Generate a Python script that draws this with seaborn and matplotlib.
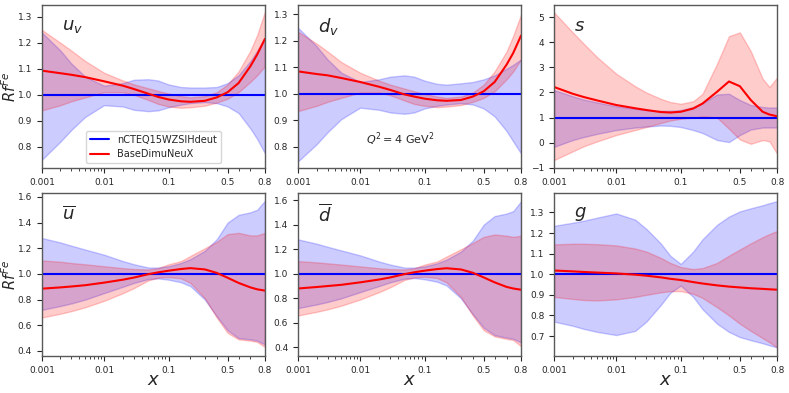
import numpy as np
import pandas as pd
import matplotlib
matplotlib.use("Agg")
import matplotlib.pyplot as plt
from matplotlib.ticker import NullFormatter
import seaborn as sns

x_vals = [0.001, 0.002, 0.003, 0.005, 0.01, 0.02, 0.03, 0.05, 0.07, 0.1,
          0.15, 0.2, 0.3, 0.4, 0.5, 0.6, 0.7, 0.75, 0.8]

ref_name = "nCTEQ15WZSIHdeut"
fit_name = "BaseDimuNeuX"
ref_central = 1.0

# u_v
uv_fit = [1.093, 1.083, 1.077, 1.068, 1.052, 1.035, 1.022, 1.004, 0.992, 0.982,
          0.975, 0.973, 0.977, 0.990, 1.010, 1.045, 1.11, 1.155, 1.215]
uv_fit_hi = [1.25, 1.20, 1.17, 1.13, 1.085, 1.055, 1.04, 1.025, 1.015, 1.005,
             0.995, 0.99, 0.995, 1.01, 1.04, 1.09, 1.17, 1.23, 1.32]
uv_fit_lo = [0.94, 0.96, 0.975, 0.99, 1.01, 1.01, 1.0, 0.98, 0.965, 0.955,
             0.95, 0.952, 0.958, 0.97, 0.985, 1.01, 1.05, 1.075, 1.11]
uv_ref_hi = [1.24, 1.17, 1.12, 1.07, 1.035, 1.045, 1.058, 1.06, 1.055, 1.04,
             1.03, 1.028, 1.028, 1.03, 1.045, 1.075, 1.13, 1.17, 1.22]
uv_ref_lo = [0.75, 0.82, 0.865, 0.915, 0.96, 0.955, 0.942, 0.937, 0.94, 0.952,
             0.962, 0.968, 0.972, 0.968, 0.955, 0.93, 0.87, 0.83, 0.775]

# d_v
dv_fit = [1.085, 1.075, 1.07, 1.06, 1.045, 1.027, 1.015, 0.998, 0.99, 0.982,
          0.976, 0.974, 0.977, 0.99, 1.01, 1.045, 1.11, 1.155, 1.22]
dv_fit_hi = [1.235, 1.19, 1.16, 1.12, 1.08, 1.05, 1.035, 1.02, 1.01, 1.0,
             0.99, 0.985, 0.99, 1.005, 1.035, 1.085, 1.16, 1.22, 1.30]
dv_fit_lo = [0.935, 0.955, 0.97, 0.985, 1.005, 1.005, 0.995, 0.975, 0.962, 0.955,
             0.95, 0.952, 0.958, 0.97, 0.985, 1.01, 1.055, 1.085, 1.13]
dv_ref_hi = [1.25, 1.18, 1.13, 1.08, 1.045, 1.055, 1.065, 1.07, 1.065, 1.05,
             1.038, 1.035, 1.04, 1.045, 1.055, 1.07, 1.095, 1.11, 1.13]
dv_ref_lo = [0.745, 0.81, 0.855, 0.905, 0.948, 0.94, 0.93, 0.925, 0.93, 0.945,
             0.955, 0.96, 0.965, 0.96, 0.945, 0.915, 0.86, 0.82, 0.775]

# s
s_fit = [2.22, 1.95, 1.82, 1.68, 1.5, 1.37, 1.3, 1.22, 1.2, 1.23,
         1.36, 1.56, 2.03, 2.44, 2.25, 1.7, 1.23, 1.12, 1.05]
s_fit_hi = [5.2, 4.4, 3.95, 3.4, 2.75, 2.25, 2.0, 1.75, 1.62, 1.55,
            1.65, 1.95, 3.15, 4.25, 4.4, 3.65, 2.55, 2.22, 2.6]
s_fit_lo = [-0.7, -0.35, -0.15, 0.05, 0.3, 0.5, 0.62, 0.78, 0.88, 0.95,
            1.0, 1.05, 1.0, 0.55, 0.12, -0.05, 0.1, 0.05, -0.45]
s_ref_hi = [2.1, 1.85, 1.72, 1.6, 1.45, 1.35, 1.3, 1.27, 1.27, 1.3,
            1.42, 1.58, 1.92, 1.95, 1.7, 1.5, 1.42, 1.4, 1.4]
s_ref_lo = [-0.17, 0.1, 0.22, 0.35, 0.5, 0.6, 0.64, 0.68, 0.67, 0.62,
            0.5, 0.38, 0.1, 0.02, 0.3, 0.52, 0.6, 0.6, 0.6]

# u bar
ub_fit = [0.885, 0.895, 0.902, 0.912, 0.932, 0.955, 0.972, 0.998, 1.012, 1.025,
          1.038, 1.045, 1.035, 1.008, 0.97, 0.93, 0.895, 0.88, 0.87]
ub_fit_hi = [1.105, 1.095, 1.085, 1.075, 1.06, 1.045, 1.038, 1.035, 1.045, 1.075,
             1.1, 1.14, 1.2, 1.25, 1.31, 1.32, 1.3, 1.3, 1.32]
ub_fit_lo = [0.66, 0.69, 0.71, 0.74, 0.79, 0.85, 0.89, 0.95, 0.97, 0.975,
             0.965, 0.93, 0.81, 0.66, 0.54, 0.49, 0.48, 0.47, 0.43]
ub_ref_hi = [1.28, 1.245, 1.22, 1.19, 1.15, 1.1, 1.075, 1.05, 1.05, 1.06,
             1.085, 1.115, 1.18, 1.27, 1.4, 1.46, 1.48, 1.5, 1.57]
ub_ref_lo = [0.72, 0.75, 0.77, 0.8, 0.85, 0.9, 0.93, 0.96, 0.965, 0.955,
             0.935, 0.905, 0.8, 0.67, 0.56, 0.5, 0.49, 0.48, 0.45]

# d bar
db_fit = [0.88, 0.892, 0.9, 0.91, 0.93, 0.953, 0.97, 0.997, 1.012, 1.025,
          1.038, 1.045, 1.035, 1.008, 0.97, 0.93, 0.893, 0.88, 0.87]
db_fit_hi = [1.103, 1.093, 1.085, 1.075, 1.06, 1.045, 1.038, 1.035, 1.045, 1.075,
             1.1, 1.14, 1.2, 1.25, 1.3, 1.32, 1.31, 1.3, 1.31]
db_fit_lo = [0.66, 0.69, 0.71, 0.74, 0.79, 0.85, 0.89, 0.95, 0.97, 0.975,
             0.965, 0.93, 0.81, 0.66, 0.54, 0.49, 0.47, 0.46, 0.41]
db_ref_hi = [1.28, 1.245, 1.22, 1.19, 1.15, 1.1, 1.075, 1.05, 1.05, 1.06,
             1.085, 1.115, 1.18, 1.27, 1.4, 1.47, 1.49, 1.51, 1.59]
db_ref_lo = [0.72, 0.75, 0.77, 0.8, 0.85, 0.9, 0.93, 0.96, 0.965, 0.955,
             0.935, 0.905, 0.8, 0.67, 0.56, 0.5, 0.48, 0.47, 0.44]

# g
g_fit = [1.018, 1.014, 1.011, 1.008, 1.004, 0.998, 0.993, 0.985, 0.978, 0.972,
         0.962, 0.955, 0.946, 0.94, 0.936, 0.932, 0.929, 0.927, 0.925]
g_fit_hi = [1.145, 1.148, 1.148, 1.146, 1.14, 1.125, 1.11, 1.08, 1.055, 1.035,
            1.025, 1.03, 1.055, 1.09, 1.12, 1.15, 1.18, 1.195, 1.21]
g_fit_lo = [0.89, 0.88, 0.875, 0.873, 0.878, 0.89, 0.9, 0.912, 0.918, 0.918,
            0.905, 0.885, 0.84, 0.8, 0.76, 0.725, 0.69, 0.67, 0.645]
g_ref_hi = [1.235, 1.25, 1.26, 1.275, 1.295, 1.265, 1.22, 1.15, 1.09, 1.05,
            1.11, 1.17, 1.24, 1.28, 1.305, 1.32, 1.335, 1.345, 1.355]
g_ref_lo = [0.77, 0.75, 0.735, 0.72, 0.705, 0.725, 0.77, 0.85, 0.91, 0.945,
            0.89, 0.83, 0.76, 0.72, 0.695, 0.68, 0.665, 0.655, 0.645]

x_ticks = [0.001, 0.01, 0.1, 0.5, 0.8]
x_ticklabels = ["0.001", "0.01", "0.1", "0.5", "0.8"]
x_minor = ([k * 0.001 for k in range(2, 10)] + [k * 0.01 for k in range(2, 10)]
           + [0.2, 0.3, 0.4, 0.6, 0.7])

panels = [
    (r"$u_v$", uv_fit, uv_fit_lo, uv_fit_hi, uv_ref_lo, uv_ref_hi,
     [0.8, 0.9, 1.0, 1.1, 1.2, 1.3], (0.718, 1.345)),
    (r"$d_v$", dv_fit, dv_fit_lo, dv_fit_hi, dv_ref_lo, dv_ref_hi,
     [0.8, 0.9, 1.0, 1.1, 1.2, 1.3], (0.72, 1.335)),
    (r"$s$", s_fit, s_fit_lo, s_fit_hi, s_ref_lo, s_ref_hi,
     [-1, 0, 1, 2, 3, 4, 5], (-1.02, 5.49)),
    (r"$\overline{u}$", ub_fit, ub_fit_lo, ub_fit_hi, ub_ref_lo, ub_ref_hi,
     [0.4, 0.6, 0.8, 1.0, 1.2, 1.4, 1.6], (0.36, 1.63)),
    (r"$\overline{d}$", db_fit, db_fit_lo, db_fit_hi, db_ref_lo, db_ref_hi,
     [0.4, 0.6, 0.8, 1.0, 1.2, 1.4, 1.6], (0.33, 1.657)),
    (r"$g$", g_fit, g_fit_lo, g_fit_hi, g_ref_lo, g_ref_hi,
     [0.7, 0.8, 0.9, 1.0, 1.1, 1.2, 1.3], (0.603, 1.394)),
]

sns.set_style("ticks")
palette = {ref_name: "blue", fit_name: "red"}

fig, axes = plt.subplots(2, 3, figsize=(7.89, 3.93), dpi=100)
fig.subplots_adjust(left=0.053, right=0.985, top=0.987, bottom=0.094,
                    wspace=0.148, hspace=0.153)

for i, (label, fit, fit_lo, fit_hi, ref_lo, ref_hi, yticks, ylim) in enumerate(panels):
    ax = axes.flat[i]
    ax.fill_between(x_vals, ref_lo, ref_hi, color="blue", alpha=0.2)
    ax.fill_between(x_vals, fit_lo, fit_hi, color="red", alpha=0.2)

    df = pd.DataFrame({
        "x": x_vals * 2,
        "R": [ref_central] * len(x_vals) + fit,
        "set": [ref_name] * len(x_vals) + [fit_name] * len(x_vals),
    })
    sns.lineplot(data=df, x="x", y="R", hue="set", palette=palette,
                 linewidth=1.5, ax=ax, legend=False, sort=False)

    ax.set_xscale("logit")
    ax.set_xlim(0.001, 0.8)
    ax.set_xticks(x_ticks)
    ax.set_xticklabels(x_ticklabels)
    ax.set_xticks(x_minor, minor=True)
    ax.xaxis.set_minor_formatter(NullFormatter())
    ax.set_yticks(yticks)
    ax.set_ylim(*ylim)
    ax.tick_params(axis="both", which="major", labelsize=6.5, length=3.5, width=0.8)
    ax.tick_params(axis="both", which="minor", length=2, width=0.6)
    for sp in ax.spines.values():
        sp.set_color("0.35")
        sp.set_linewidth(1.0)

    ax.text(0.09, 0.87, label, transform=ax.transAxes, fontsize=13, va="center")

    if i >= 3:
        ax.set_xlabel(r"$x$", fontsize=13)
        ax.xaxis.set_label_coords(0.5, -0.09)
    else:
        ax.set_xlabel("")
    if i % 3 == 0:
        ax.set_ylabel(r"$Rf^{Fe}$", fontsize=10.5)
        ax.yaxis.set_label_coords(-0.104, 0.5)
    else:
        ax.set_ylabel("")

# legend in first panel
h = axes[0, 0].get_lines()
axes[0, 0].legend(h[:2], [ref_name, fit_name], loc="lower center", fontsize=7,
                  handlelength=2.0, framealpha=0.8)

axes[0, 1].text(0.46, 0.18, r"$Q^2 = 4$ GeV$^2$", transform=axes[0, 1].transAxes,
                fontsize=8, ha="center", va="center")

plt.savefig("out.png", dpi=100)
